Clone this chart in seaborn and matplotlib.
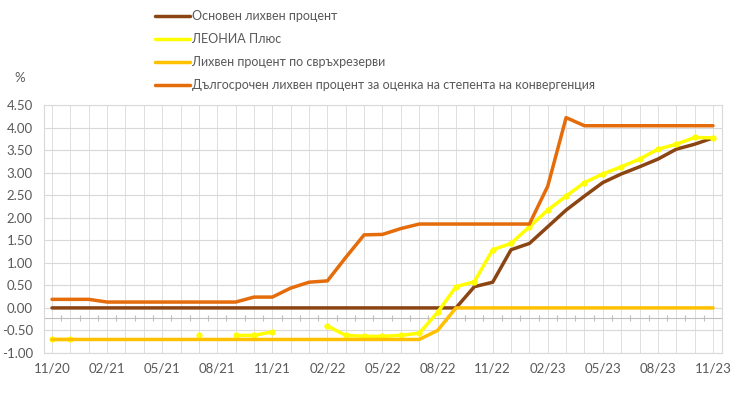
import numpy as np
import pandas as pd
import matplotlib
matplotlib.use("Agg")
import matplotlib.pyplot as plt
import seaborn as sns

# ---- data -----------------------------------------------------------------
months = pd.date_range("2020-11-01", "2023-11-01", freq="MS")
tick_labels = ["11/20", "02/21", "05/21", "08/21", "11/21", "02/22", "05/22",
               "08/22", "11/22", "02/23", "05/23", "08/23", "11/23"]

base_rate = [0.00] * 23 + [0.47, 0.57, 1.29, 1.43, 1.80, 2.17, 2.48, 2.78,
                           2.97, 3.13, 3.30, 3.52, 3.63, 3.77]
nan = np.nan
leonia_plus = [-0.69, -0.69, nan, nan, nan, nan, nan, nan, -0.61, nan,
               -0.61, -0.61, -0.53, nan, nan, -0.40, -0.61, -0.63, -0.63,
               -0.61, -0.56, -0.10, 0.47, 0.58, 1.29, 1.43, 1.80, 2.17,
               2.48, 2.78, 2.97, 3.13, 3.30, 3.52, 3.63, 3.78, 3.77]
excess_reserves = [-0.70] * 21 + [-0.50] + [0.00] * 15
long_term = [0.19, 0.19, 0.19, 0.13, 0.13, 0.13, 0.13, 0.13, 0.13, 0.13,
             0.13, 0.24, 0.24, 0.44, 0.57, 0.60, 1.12, 1.62, 1.63, 1.76,
             1.86, 1.86, 1.86, 1.86, 1.86, 1.86, 1.86, 2.70, 4.22, 4.04,
             4.04, 4.04, 4.04, 4.04, 4.04, 4.04, 4.04]

names = ["Основен лихвен процент",
         "ЛЕОНИА Плюс",
         "Лихвен процент по свръхрезерви",
         "Дългосрочен лихвен процент за оценка на степента на конвергенция"]
colors = ["#8B4513", "#FFFF00", "#FFC000", "#E46C0A"]
series = [base_rate, leonia_plus, excess_reserves, long_term]

# ---- figure ---------------------------------------------------------------
sns.set_theme(style="white")
plt.rcParams["font.family"] = ["Lato", "DejaVu Sans"]
text_color = "#595959"
grid_color = "#D9D9D9"

fig = plt.figure(figsize=(7.40, 4.08), dpi=100)
ax = fig.add_axes([44 / 740, 55 / 408, (722 - 44) / 740, (353 - 105) / 408])

idx = np.arange(len(months))
handles = []
for k, (name, vals, col) in enumerate(zip(names, series, colors)):
    v = pd.Series(vals, dtype=float)
    seg = v.isna().cumsum()
    df = pd.DataFrame({"x": idx, "y": v, "seg": seg}).dropna()
    kw = dict(marker="o", markersize=4.5, markeredgewidth=0) if k == 1 else {}
    sns.lineplot(data=df, x="x", y="y", units="seg", estimator=None,
                 color=col, lw=2.5, ax=ax, zorder=3 + k, legend=False, **kw)
    handles.append(plt.Line2D([], [], color=col, lw=2.5))

ax.set_xlim(-(52 - 44) / 18.36, 36 + (722 - 713) / 18.36)
ax.set_ylim(-1.0, 4.5)
ax.set_yticks(np.arange(-1.0, 4.51, 0.5))
ax.set_yticklabels([f"{t:.2f}" for t in np.arange(-1.0, 4.51, 0.5)])
ax.set_xticks(idx[::3])
ax.set_xticklabels(tick_labels)
ax.set_xlabel("")
ax.set_ylabel("")
ax.tick_params(axis="both", length=0, labelsize=9.5, colors=text_color)
ax.tick_params(axis="y", pad=8)
ax.tick_params(axis="x", pad=7)

# grid
for t in np.arange(-1.0, 4.51, 0.5):
    ax.axhline(t, color=grid_color, lw=0.8, zorder=0)
for i in idx:
    ax.axvline(i, color=grid_color, lw=0.6, zorder=0)
for s in ax.spines.values():
    s.set_color(grid_color)
    s.set_linewidth(0.8)

# category axis line with small tick marks
axis_y = -0.22
ax.axhline(axis_y, color="#BFBFBF", lw=0.8, zorder=1)
ax.vlines(np.arange(len(months) - 1) + 0.5, axis_y - 0.07, axis_y + 0.07,
          color="#BFBFBF", lw=0.8, zorder=1)

fig.text(20 / 740, 1 - 78 / 408, "%", color=text_color, fontsize=9.5,
         ha="center", va="center")

fig.legend(handles, names, loc="upper left",
           bbox_to_anchor=(144 / 740, 1 + 1 / 408), frameon=False,
           handlelength=2.8, handletextpad=0.1, labelspacing=0.88,
           fontsize=9.0, labelcolor=text_color)

fig.savefig("out.png", dpi=100)
